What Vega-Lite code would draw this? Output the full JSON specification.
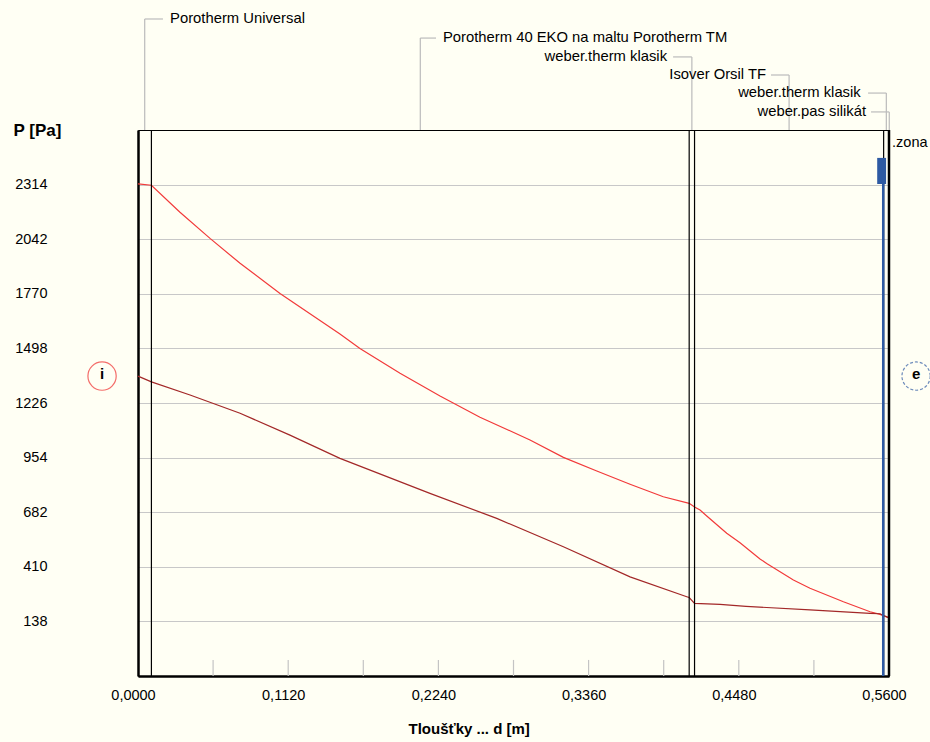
{
  "$schema": "https://vega.github.io/schema/vega-lite/v6.json",
  "width": 751,
  "height": 546,
  "autosize": {"type": "none"},
  "padding": {"left": 138, "top": 130, "right": 41, "bottom": 66},
  "background": "#FFFFF4",
  "config": {
    "font": "Liberation Sans",
    "view": {"stroke": "#000000", "strokeWidth": 1},
    "axis": {"labelFont": "Liberation Sans", "titleFont": "Liberation Sans", "labelColor": "#000000", "titleColor": "#000000"}
  },
  "datasets": {
    "curves": [
      {"s": "ps", "d": 0, "P": 2318}, {"s": "ps", "d": 0.01, "P": 2311}, {"s": "ps", "d": 0.0313, "P": 2176},
      {"s": "ps", "d": 0.0537, "P": 2046}, {"s": "ps", "d": 0.0761, "P": 1922}, {"s": "ps", "d": 0.1059, "P": 1772},
      {"s": "ps", "d": 0.1506, "P": 1570}, {"s": "ps", "d": 0.1655, "P": 1498}, {"s": "ps", "d": 0.1954, "P": 1374},
      {"s": "ps", "d": 0.2252, "P": 1261}, {"s": "ps", "d": 0.255, "P": 1155}, {"s": "ps", "d": 0.2923, "P": 1042},
      {"s": "ps", "d": 0.3172, "P": 955}, {"s": "ps", "d": 0.3421, "P": 887}, {"s": "ps", "d": 0.3669, "P": 821},
      {"s": "ps", "d": 0.3917, "P": 759}, {"s": "ps", "d": 0.411, "P": 726}, {"s": "ps", "d": 0.415, "P": 708},
      {"s": "ps", "d": 0.4191, "P": 693}, {"s": "ps", "d": 0.4241, "P": 663}, {"s": "ps", "d": 0.439, "P": 577},
      {"s": "ps", "d": 0.4489, "P": 530}, {"s": "ps", "d": 0.4638, "P": 449}, {"s": "ps", "d": 0.4688, "P": 427},
      {"s": "ps", "d": 0.4887, "P": 344}, {"s": "ps", "d": 0.5011, "P": 303}, {"s": "ps", "d": 0.526, "P": 236},
      {"s": "ps", "d": 0.5459, "P": 186}, {"s": "ps", "d": 0.5533, "P": 173}, {"s": "ps", "d": 0.556, "P": 166},
      {"s": "ps", "d": 0.56, "P": 155},
      {"s": "p", "d": 0, "P": 1360}, {"s": "p", "d": 0.01, "P": 1331}, {"s": "p", "d": 0.0388, "P": 1266},
      {"s": "p", "d": 0.0761, "P": 1175}, {"s": "p", "d": 0.1133, "P": 1066}, {"s": "p", "d": 0.1506, "P": 950},
      {"s": "p", "d": 0.2177, "P": 776}, {"s": "p", "d": 0.2675, "P": 651}, {"s": "p", "d": 0.3172, "P": 510},
      {"s": "p", "d": 0.3669, "P": 360}, {"s": "p", "d": 0.4092, "P": 261}, {"s": "p", "d": 0.411, "P": 257},
      {"s": "p", "d": 0.415, "P": 228}, {"s": "p", "d": 0.434, "P": 223}, {"s": "p", "d": 0.4534, "P": 213},
      {"s": "p", "d": 0.5011, "P": 195}, {"s": "p", "d": 0.5459, "P": 178}, {"s": "p", "d": 0.5533, "P": 176},
      {"s": "p", "d": 0.556, "P": 167}, {"s": "p", "d": 0.56, "P": 157}
    ],
    "bounds": [{"d": 0.01}, {"d": 0.411}, {"d": 0.415}, {"d": 0.556}],
    "minor": [{"d": 0.056}, {"d": 0.112}, {"d": 0.168}, {"d": 0.224}, {"d": 0.28}, {"d": 0.336}, {"d": 0.392}, {"d": 0.448}, {"d": 0.504}],
    "leaders": [
      {"label": "Porotherm Universal", "lx": 0.005, "hx": 0.0186, "tx": 0.0239, "ty": 3139, "side": "L"},
      {"label": "Porotherm 40 EKO na maltu Porotherm TM", "lx": 0.2105, "hx": 0.2222, "tx": 0.2274, "ty": 3044, "side": "L"},
      {"label": "weber.therm klasik", "lx": 0.413, "hx": 0.399, "tx": 0.3945, "ty": 2950, "side": "R"},
      {"label": "Isover Orsil TF", "lx": 0.4855, "hx": 0.472, "tx": 0.4683, "ty": 2860, "side": "R"},
      {"label": "weber.therm klasik", "lx": 0.558, "hx": 0.5444, "tx": 0.5389, "ty": 2770, "side": "R"},
      {"label": "weber.pas silikát", "lx": 0.5602, "hx": 0.5466, "tx": 0.5429, "ty": 2676, "side": "R"}
    ],
    "sides": [
      {"t": "i", "d": -0.0268, "P": 1360},
      {"t": "e", "d": 0.5802, "P": 1360}
    ]
  },
  "layer": [
    {
      "data": {"name": "curves"},
      "mark": {"type": "line", "strokeWidth": 1.2, "clip": false},
      "encoding": {
        "x": {
          "field": "d", "type": "quantitative", "title": "Tloušťky ... d [m]",
          "scale": {"domain": [0, 0.56], "nice": false, "zero": false},
          "axis": {
            "values": [0, 0.112, 0.224, 0.336, 0.448, 0.56],
            "labelExpr": "replace(format(datum.value, '.4f'), '.', ',')",
            "ticks": false, "grid": false,
            "domainColor": "#000000", "domainWidth": 2.5,
            "labelFontSize": 14.5, "labelOffset": -5, "labelPadding": 12, "labelBaseline": "top",
            "labelFlush": false,
            "title": "Tloušťky ... d [m]", "titleFontSize": 15, "titleFontWeight": "bold",
            "titleX": 270, "titleY": 52, "titleAlign": "left", "titleBaseline": "middle"
          }
        },
        "y": {
          "field": "P", "type": "quantitative", "title": "P [Pa]",
          "scale": {"domain": [-134, 2586], "nice": false, "zero": false},
          "axis": {
            "values": [138, 410, 682, 954, 1226, 1498, 1770, 2042, 2314],
            "format": "d",
            "ticks": false, "grid": true, "gridColor": "#C8C8C8", "gridWidth": 1.2,
            "domainColor": "#000000", "domainWidth": 2.5,
            "labelFontSize": 14.5, "labelAlign": "right", "labelBaseline": "middle", "labelPadding": 91,
            "title": "P [Pa]", "titleFontSize": 17, "titleFontWeight": "bold", "titleAngle": 0,
            "titleX": -125, "titleY": 0, "titleAlign": "left", "titleBaseline": "middle"
          }
        },
        "color": {
          "field": "s", "type": "nominal",
          "scale": {"domain": ["ps", "p"], "range": ["#F23A3A", "#A32828"]},
          "legend": null
        }
      }
    },
    {
      "data": {"name": "bounds"},
      "mark": {"type": "rule", "color": "#000000", "strokeWidth": 1.2},
      "encoding": {"x": {"field": "d", "type": "quantitative"}}
    },
    {
      "data": {"values": [{"d": 0.56}]},
      "mark": {"type": "rule", "color": "#000000", "strokeWidth": 2.5},
      "encoding": {"x": {"field": "d", "type": "quantitative"}}
    },
    {
      "data": {"name": "minor"},
      "mark": {"type": "rule", "color": "#C4C4C4", "strokeWidth": 1.2},
      "encoding": {
        "x": {"field": "d", "type": "quantitative"},
        "y": {"datum": -134},
        "y2": {"datum": -54}
      }
    },
    {
      "data": {"values": [{"d": 0.5557, "P": -134, "P1": 2447}]},
      "mark": {"type": "rule", "color": "#2E5AA3", "strokeWidth": 2.5},
      "encoding": {
        "x": {"field": "d", "type": "quantitative"},
        "y": {"field": "P", "type": "quantitative"},
        "y2": {"field": "P1"}
      }
    },
    {
      "data": {"values": [{"d": 0.5512, "d1": 0.5578, "P": 2317, "P1": 2447}]},
      "mark": {"type": "rect", "color": "#2E5AA3"},
      "encoding": {
        "x": {"field": "d", "type": "quantitative"},
        "x2": {"field": "d1"},
        "y": {"field": "P", "type": "quantitative"},
        "y2": {"field": "P1"}
      }
    },
    {
      "data": {"name": "leaders"},
      "mark": {"type": "rule", "color": "#BBBBBB", "strokeWidth": 1.2},
      "encoding": {
        "x": {"field": "lx", "type": "quantitative"},
        "y": {"field": "ty", "type": "quantitative"},
        "y2": {"datum": 2586}
      }
    },
    {
      "data": {"name": "leaders"},
      "mark": {"type": "rule", "color": "#BBBBBB", "strokeWidth": 1.2},
      "encoding": {
        "x": {"field": "hx", "type": "quantitative"},
        "x2": {"field": "lx"},
        "y": {"field": "ty", "type": "quantitative"}
      }
    },
    {
      "data": {"name": "leaders"},
      "transform": [{"filter": "datum.side == 'L'"}],
      "mark": {"type": "text", "align": "left", "baseline": "middle", "fontSize": 14.8, "color": "#000000"},
      "encoding": {
        "x": {"field": "tx", "type": "quantitative"},
        "y": {"field": "ty", "type": "quantitative"},
        "text": {"field": "label"}
      }
    },
    {
      "data": {"name": "leaders"},
      "transform": [{"filter": "datum.side == 'R'"}],
      "mark": {"type": "text", "align": "right", "baseline": "middle", "fontSize": 14.8, "color": "#000000"},
      "encoding": {
        "x": {"field": "tx", "type": "quantitative"},
        "y": {"field": "ty", "type": "quantitative"},
        "text": {"field": "label"}
      }
    },
    {
      "data": {"values": [{"t": ".zona", "d": 0.5623, "P": 2521}]},
      "mark": {"type": "text", "align": "left", "baseline": "middle", "fontSize": 14.5, "color": "#000000"},
      "encoding": {
        "x": {"field": "d", "type": "quantitative"},
        "y": {"field": "P", "type": "quantitative"},
        "text": {"field": "t"}
      }
    },
    {
      "data": {"name": "sides"},
      "transform": [{"filter": "datum.t == 'i'"}],
      "mark": {"type": "point", "shape": "circle", "size": 800, "filled": false, "stroke": "#F03030", "strokeWidth": 1.2, "clip": false},
      "encoding": {
        "x": {"field": "d", "type": "quantitative"},
        "y": {"field": "P", "type": "quantitative"}
      }
    },
    {
      "data": {"name": "sides"},
      "transform": [{"filter": "datum.t == 'e'"}],
      "mark": {"type": "point", "shape": "circle", "size": 800, "filled": false, "stroke": "#2E5AA3", "strokeWidth": 1.2, "strokeDash": [3, 2], "clip": false},
      "encoding": {
        "x": {"field": "d", "type": "quantitative"},
        "y": {"field": "P", "type": "quantitative"}
      }
    },
    {
      "data": {"name": "sides"},
      "mark": {"type": "text", "align": "center", "baseline": "middle", "fontSize": 15, "fontWeight": "bold", "color": "#000000", "dy": -2},
      "encoding": {
        "x": {"field": "d", "type": "quantitative"},
        "y": {"field": "P", "type": "quantitative"},
        "text": {"field": "t"}
      }
    }
  ]
}
